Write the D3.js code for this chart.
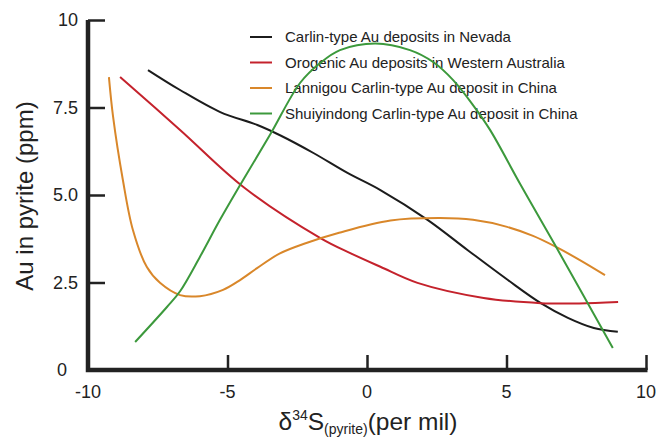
<!DOCTYPE HTML>
<html>
 <head>
   <meta charset="utf-8">
   <style>
     body { margin:0; background:#fff; }
     text { font-family:"Liberation Sans", Arial, sans-serif; fill:#222; }
   </style>
 </head>
 <body>
 <script src="https://cdnjs.cloudflare.com/ajax/libs/d3/7.8.5/d3.min.js"></script>
 <script>
     // series: [delta34S, Au ppm]
     var names = ["Carlin-type Au deposits in Nevada",
                  "Orogenic Au deposits in Western Australia",
                  "Lannigou Carlin-type Au deposit in China",
                  "Shuiyindong Carlin-type Au deposit in China"];
     var colours = ["#1c1c1c", "#c4222c", "#d9872a", "#3c993c"];

     var nevada = [[-7.85,8.57],[-6.7,8.0],[-5.26,7.37],[-3.93,7.0],[-3.1,6.7],[-1.92,6.2],
                   [-0.7,5.63],[0.48,5.14],[2.17,4.29],[3.6,3.43],[5.05,2.57],[6.23,1.91],
                   [7.2,1.49],[8.13,1.2],[8.99,1.09]];
     var orogenic = [[-8.85,8.37],[-6.7,6.86],[-4.43,5.23],[-1.67,3.77],[-0.6,3.34],[0.48,2.95],
                     [1.81,2.49],[4.18,2.06],[6.23,1.91],[7.6,1.9],[9.0,1.94]];
     var lannigou = [[-9.25,8.37],[-9.1,7.23],[-8.75,5.43],[-8.39,4.0],[-7.89,2.94],[-7.42,2.49],
                     [-6.7,2.14],[-5.99,2.11],[-5.16,2.29],[-4.55,2.57],[-3.94,2.91],[-3.12,3.33],
                     [-2.2,3.62],[-1.0,3.92],[0.84,4.27],[2.62,4.34],[3.8,4.29],[5.02,4.09],
                     [5.95,3.83],[6.74,3.53],[7.63,3.14],[8.53,2.71]];
     var shuiyindong = [[-8.31,0.8],[-7.17,1.8],[-6.7,2.25],[-5.99,3.23],[-5.27,4.29],[-4.44,5.43],
                        [-3.46,6.74],[-2.4,8.2],[-1.68,8.77],[-0.97,9.14],[0.3,9.33],
                        [1.54,9.14],[2.37,8.8],[3.08,8.29],[3.8,7.57],[4.41,6.86],[5.5,5.3],
                        [6.74,3.57],[8.81,0.63]];
     var series = [nevada, orogenic, lannigou, shuiyindong];

     var xTicks = [-10, -5, 0, 5, 10];
     var yTicks = [0, 2.5, 5, 7.5, 10];
     var yTickLabels = ["0", "2.5", "5.0", "7.5", "10"];

     var W = 656, H = 439;
     var svg = d3.select("body").append("svg")
             .attr("width", W).attr("height", H);

     var x = d3.scaleLinear().domain([-10,10]).range([88,646]);
     var y = d3.scaleLinear().domain([0,10]).range([370,20]);

     // axes, ticks drawn inward
     var gx = svg.append("g").attr("transform","translate(0,370)")
             .call(d3.axisTop(x).tickValues(xTicks).tickSize(15).tickFormat(""));
     var gy = svg.append("g").attr("transform","translate(88,0)")
             .call(d3.axisRight(y).tickValues(yTicks).tickSize(17).tickFormat(""));
     [gx, gy].forEach(function(g) {
         g.select(".domain").remove();
         g.selectAll(".tick line").attr("stroke","#222").attr("stroke-width",2.5);
     });
     gx.selectAll(".tick").filter(function(d) { return d === -10; }).remove();
     gy.selectAll(".tick").filter(function(d) { return d === 0; }).remove();

     svg.append("path")
             .attr("d","M" + x(-10) + "," + y(10) + "V" + y(0) + "H" + (x(10)+1.5))
             .attr("fill","none").attr("stroke","#222").attr("stroke-width",4.5);

     svg.selectAll(".xl").data(xTicks).enter().append("text")
             .attr("x", function(d) { return x(d); }).attr("y", 398)
             .attr("text-anchor","middle").style("font-size","18px")
             .text(function(d) { return d; });
     svg.selectAll(".yl").data(yTicks).enter().append("text")
             .attr("x", function(d) { return d === 0 ? 67 : 78; })
             .attr("y", function(d) { return y(d) + 6; })
             .attr("text-anchor","end").style("font-size","18px")
             .text(function(d,i) { return yTickLabels[i]; });

     svg.append("text")
             .attr("transform","translate(33,196) rotate(-90)")
             .attr("text-anchor","middle").style("font-size","24px")
             .text("Au in pyrite (ppm)");

     var xt = svg.append("text").attr("x",368).attr("y",430)
             .attr("text-anchor","middle").style("font-size","24.5px");
     xt.append("tspan").text("δ");
     xt.append("tspan").attr("dy",-10).style("font-size","14px").text("34");
     xt.append("tspan").attr("dy",10).text("S");
     xt.append("tspan").attr("dy",4).style("font-size","14px").text("(pyrite)");
     xt.append("tspan").attr("dy",-4).text("(per mil)");

     var line = d3.line()
             .x(function(d) { return x(d[0]); })
             .y(function(d) { return y(d[1]); })
             .curve(d3.curveCatmullRom.alpha(0.5));

     // legend
     var lg = svg.append("g");
     names.forEach(function(n, i) {
         var ly = 37 + i * 25.5;
         lg.append("line").attr("x1",250).attr("x2",272).attr("y1",ly).attr("y2",ly)
                 .attr("stroke",colours[i]).attr("stroke-width",2);
         lg.append("text").attr("x",285).attr("y",ly + 5)
                 .style("font-size","15px").text(n);
     });

     svg.selectAll(".series").data(series).enter().append("path")
             .attr("d", line)
             .attr("fill","none")
             .attr("stroke", function(d,i) { return colours[i]; })
             .attr("stroke-width",2);
 </script>
 </body>
</html>
